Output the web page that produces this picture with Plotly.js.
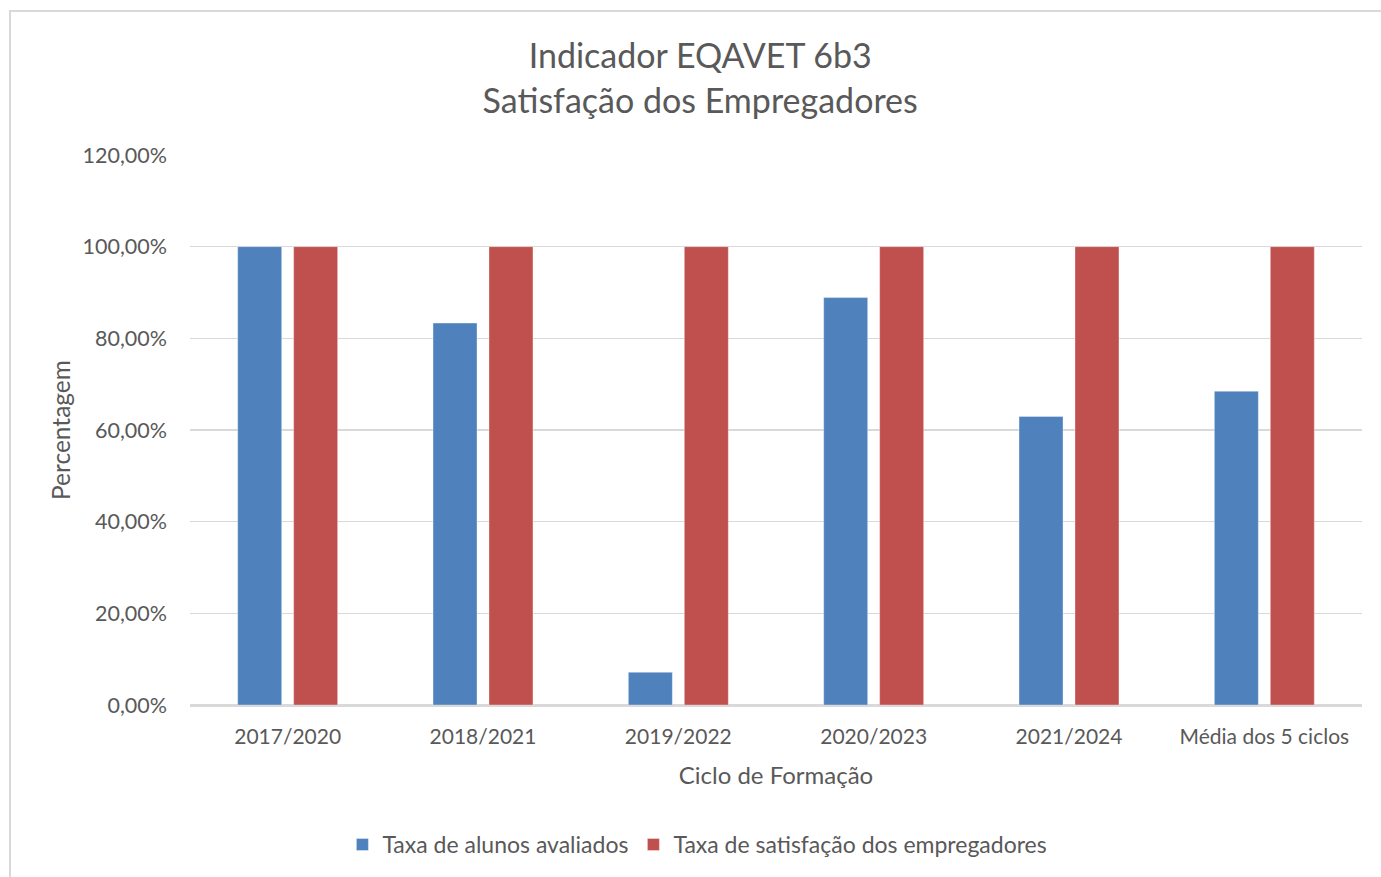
<!DOCTYPE html>
<html>
<head>
<meta charset="utf-8">
<script src="https://cdn.plot.ly/plotly-3.0.1.min.js"></script>
<style>
  html, body { margin: 0; padding: 0; background: #fff; }
  #wrap { position: relative; width: 1381px; height: 877px; overflow: hidden; }
  #chart { width: 1381px; height: 877px; }
  #frame { position: absolute; left: 9px; top: 10px; width: 1400px; height: 900px;
           border: 2px solid #d9d9d9; pointer-events: none; box-sizing: border-box; }
</style>
</head>
<body>
<div id="wrap">
  <div id="chart"></div>
  <div id="frame"></div>
</div>
<script>
const categories = ["2017/2020", "2018/2021", "2019/2022", "2020/2023", "2021/2024", "Média dos 5 ciclos"];
const taxaAlunosAvaliados = [1.0, 0.8333, 0.0714, 0.8889, 0.6296, 0.6846];
const taxaSatisfacaoEmpregadores = [1.0, 1.0, 1.0, 1.0, 1.0, 1.0];
const seriesNames = ["Taxa de alunos avaliados", "Taxa de satisfação dos empregadores"];
const yTicks = [0, 0.2, 0.4, 0.6, 0.8, 1.0, 1.2];

const font = "Lato, 'Open Sans', sans-serif";
const textColor = "#595959";

const traces = [
  {
    type: "bar", name: seriesNames[0], x: categories, y: taxaAlunosAvaliados,
    marker: { color: "#4F81BD", line: { color: "rgba(255,255,255,0.35)", width: 1 } },
    hoverinfo: "x+y"
  },
  {
    type: "bar", name: seriesNames[1], x: categories, y: taxaSatisfacaoEmpregadores,
    marker: { color: "#C0504D", line: { color: "rgba(255,255,255,0.35)", width: 1 } },
    hoverinfo: "x+y"
  }
];

const layout = {
  width: 1381, height: 877,
  paper_bgcolor: "rgba(0,0,0,0)", plot_bgcolor: "#fff",
  separators: ", ",
  font: { family: font, color: textColor, size: 21 },
  margin: { l: 190, r: 19, t: 155, b: 172, pad: 0 },
  title: {
    text: "Indicador EQAVET 6b3<br>Satisfação dos Empregadores",
    font: { family: font, size: 34, color: textColor },
    x: 0.507, xref: "container", xanchor: "center",
    y: 0.922, yref: "container", yanchor: "middle"
  },
  barmode: "group",
  bargap: 0.427,
  bargroupgap: 0.214,
  xaxis: {
    type: "category",
    showgrid: false, zeroline: false,
    showline: true, linecolor: "#d9d9d9", linewidth: 1.5,
    ticks: "", ticklabelstandoff: 12,
    tickfont: { family: font, size: 21, color: textColor },
    title: { text: "Ciclo de Formação", font: { family: font, size: 24, color: textColor }, standoff: 20 }
  },
  yaxis: {
    range: [0, 1.2],
    tickvals: yTicks,
    tickformat: ".2%",
    showgrid: true, gridcolor: "#d9d9d9", gridwidth: 1.5,
    zeroline: true, zerolinecolor: "#d9d9d9", zerolinewidth: 1.5,
    showline: false, ticks: "", ticklabelstandoff: 22,
    tickfont: { family: font, size: 21.5, color: textColor },
    title: { text: "Percentagem", font: { family: font, size: 24.5, color: textColor }, standoff: 4 }
  },
  showlegend: true,
  legend: {
    orientation: "h", x: 0.505, xref: "container", xanchor: "center",
    y: 0.037, yref: "container", yanchor: "middle",
    font: { family: font, size: 23, color: textColor },
    itemwidth: 30, tracegroupgap: 0
  }
};

Plotly.newPlot("chart", traces, layout, { displayModeBar: false, staticPlot: true });
</script>
</body>
</html>
